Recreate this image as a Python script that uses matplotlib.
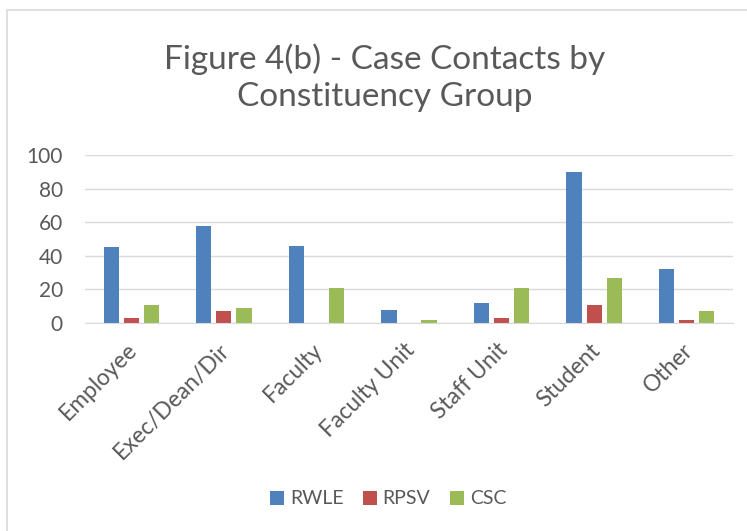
import matplotlib.pyplot as plt
import matplotlib.patches as mpatches
import numpy as np

groups = ['Employee', 'Exec/Dean/Dir', 'Faculty', 'Faculty Unit', 'Staff Unit', 'Student', 'Other']
rwle = [45, 58, 46, 8, 12, 90, 32]
rpsv = [3, 7, 0, 0, 3, 11, 2]
csc = [11, 9, 21, 2, 21, 27, 7]
series = ['RWLE', 'RPSV', 'CSC']
colors = ['#4F81BD', '#C0504D', '#9BBB59']
text_col = '#595959'

plt.rcParams['font.family'] = ['Lato', 'DejaVu Sans']

fig = plt.figure(figsize=(7.47, 5.31), dpi=100)
# chart frame (cropped at right and bottom in the reference)
fig.patches.append(mpatches.Rectangle((7 / 747, -0.1), 1.2, (531 - 10) / 531 + 0.1,
                                      transform=fig.transFigure, fill=False,
                                      edgecolor='#D9D9D9', linewidth=1.2))

ax = fig.add_axes([85 / 747, (531 - 323) / 531, (733 - 85) / 747, (323 - 155) / 531])
x = np.arange(len(groups))
w = 0.165
step = 0.217
for i, (vals, c) in enumerate(zip([rwle, rpsv, csc], colors)):
    ax.bar(x + (i - 1) * step, vals, w, color=c, label=series[i], zorder=3)

ax.set_xlim(-0.5, len(groups) - 0.5)
ax.set_ylim(0, 100)
ax.set_yticks(range(0, 101, 20))
ax.yaxis.grid(True, color='#D9D9D9', linewidth=1.0, zorder=0)
for s in ['top', 'right', 'left']:
    ax.spines[s].set_visible(False)
ax.spines['bottom'].set_color('#D9D9D9')
ax.spines['bottom'].set_zorder(4)
ax.tick_params(length=0, labelcolor=text_col)
ax.tick_params(axis='y', labelsize=15, pad=16)
ax.set_xticks(x + 0.03)
ax.set_xticklabels(groups, rotation=45, ha='right', va='center', rotation_mode='anchor')
ax.tick_params(axis='x', labelsize=16.5, pad=17)

fig.text(385 / 747, 1 - 78 / 531, 'Figure 4(b) - Case Contacts by\nConstituency Group',
         ha='center', va='center', fontsize=24, color=text_col, linespacing=1.3)

fig.legend(loc='center', bbox_to_anchor=(388 / 747, 1 - 499 / 531), ncol=3, frameon=False,
           fontsize=14, labelcolor=text_col, handlelength=0.72, handleheight=0.72,
           handletextpad=0.3, columnspacing=1.0)

fig.savefig('out.png', dpi=100)
